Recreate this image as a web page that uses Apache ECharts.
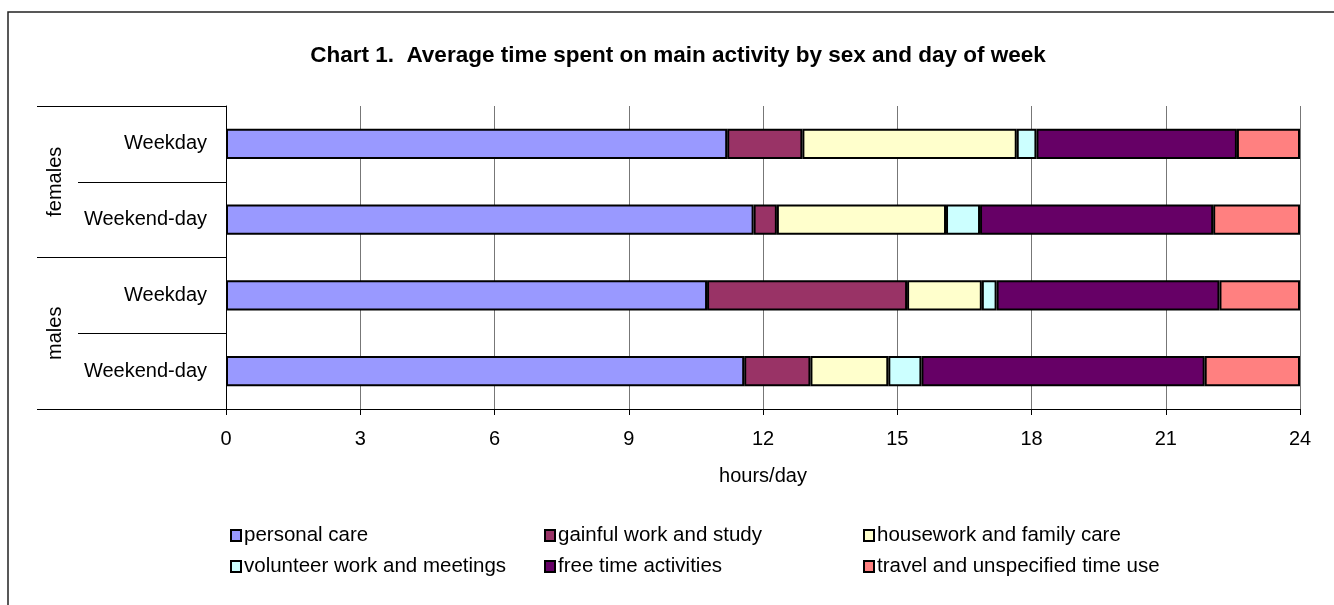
<!DOCTYPE html>
<html>
<head>
<meta charset="utf-8">
<title>Average time spent on main activity by sex and day of week</title>
<script src="https://cdn.jsdelivr.net/npm/echarts@6/dist/echarts.min.js"></script>
<style>
  html, body { margin: 0; padding: 0; background: #fff; }
  #chart { width: 1334px; height: 605px; }
</style>
</head>
<body>
<div id="chart"></div>
<script>
// Rows, top to bottom: sex group + day type
const rowKeys = ['females-weekday', 'females-weekend', 'males-weekday', 'males-weekend'];
const dayLabels = ['Weekday', 'Weekend-day', 'Weekday', 'Weekend-day'];
const sexGroups = ['females', 'males'];

// Hours per day spent on each main activity
const personalCare = [11.20, 11.79, 10.75, 11.58];
const gainfulWork  = [1.68, 0.52, 4.47, 1.48];
const housework    = [4.79, 3.78, 1.67, 1.74];
const volunteer    = [0.44, 0.76, 0.33, 0.74];
const freeTime     = [4.48, 5.21, 4.98, 6.33];
const travel       = [1.41, 1.94, 1.80, 2.13];

const activityNames = [
  'personal care', 'gainful work and study', 'housework and family care',
  'volunteer work and meetings', 'free time activities', 'travel and unspecified time use'
];
const activityValues = [personalCare, gainfulWork, housework, volunteer, freeTime, travel];
const activityColors = ['#9999FF', '#993366', '#FFFFCC', '#CCFFFF', '#660066', '#FF8080'];

const hourTicks = [0, 3, 6, 9, 12, 15, 18, 21, 24];

const FONT = '"Liberation Sans", Arial, sans-serif';
const chart = echarts.init(document.getElementById('chart'), null, { renderer: 'canvas' });

const series = activityNames.map((name, i) => ({
  name: name,
  type: 'bar',
  stack: 'day',
  barCategoryGap: '60%',
  data: activityValues[i],
  itemStyle: { color: activityColors[i], borderColor: '#000', borderWidth: 2 },
  emphasis: { disabled: true }
}));

function legendColumn(left, names) {
  return {
    orient: 'vertical',
    left: left,
    top: 520,
    itemGap: 10,
    itemWidth: 10,
    itemHeight: 11,
    icon: 'rect',
    selectedMode: false,
    data: names,
    itemStyle: { borderColor: '#000', borderWidth: 2 },
    textStyle: { fontFamily: FONT, fontSize: 20.5, color: '#000', lineHeight: 21, padding: [0, 0, 0, -2] }
  };
}

chart.setOption({
  animation: false,
  backgroundColor: '#fff',
  textStyle: { fontFamily: FONT },
  graphic: [
    {
      type: 'rect',
      shape: { x: 8, y: 12, width: 1500, height: 800 },
      style: { fill: 'none', stroke: '#222', lineWidth: 1.5 },
      silent: true
    },
    {
      type: 'text',
      x: 678,
      y: 56,
      style: {
        text: 'Chart 1.  Average time spent on main activity by sex and day of week',
        font: 'bold 22.5px ' + FONT,
        fill: '#000',
        align: 'center',
        verticalAlign: 'middle'
      },
      silent: true
    }
  ],
  grid: { left: 226, right: 34, top: 106, bottom: 196, containLabel: false },
  legend: [
    legendColumn(225, [activityNames[0], activityNames[3]]),
    legendColumn(539, [activityNames[1], activityNames[4]]),
    legendColumn(858, [activityNames[2], activityNames[5]])
  ],
  xAxis: {
    type: 'value',
    min: 0,
    max: 24,
    interval: 3,
    name: 'hours/day',
    nameLocation: 'middle',
    nameGap: 57,
    nameTextStyle: { fontFamily: FONT, fontSize: 20, color: '#000' },
    axisLine: { show: true, lineStyle: { color: '#000', width: 1 } },
    axisTick: { show: true, length: 6, lineStyle: { color: '#000' } },
    axisLabel: {
      fontFamily: FONT, fontSize: 20, color: '#000', margin: 20,
      formatter: v => (hourTicks.indexOf(v) >= 0 ? String(v) : '')
    },
    splitLine: { show: true, lineStyle: { color: '#777', width: 1 } }
  },
  yAxis: [
    {
      type: 'category',
      data: rowKeys,
      inverse: true,
      axisLine: { show: true, lineStyle: { color: '#000', width: 1 } },
      axisTick: { show: true, length: 148, lineStyle: { color: '#000', width: 1 } },
      axisLabel: {
        fontFamily: FONT, fontSize: 20, color: '#000', margin: 19,
        formatter: (v, i) => dayLabels[i]
      },
      splitLine: { show: false }
    },
    {
      type: 'category',
      data: sexGroups,
      inverse: true,
      position: 'left',
      offset: 189,
      axisLine: { show: false },
      axisTick: { show: true, inside: true, length: 189, lineStyle: { color: '#000', width: 1 } },
      axisLabel: {
        fontFamily: FONT, fontSize: 20, color: '#000',
        inside: true, rotate: 90, margin: 8
      },
      splitLine: { show: false }
    }
  ],
  series: series
});
</script>
</body>
</html>
